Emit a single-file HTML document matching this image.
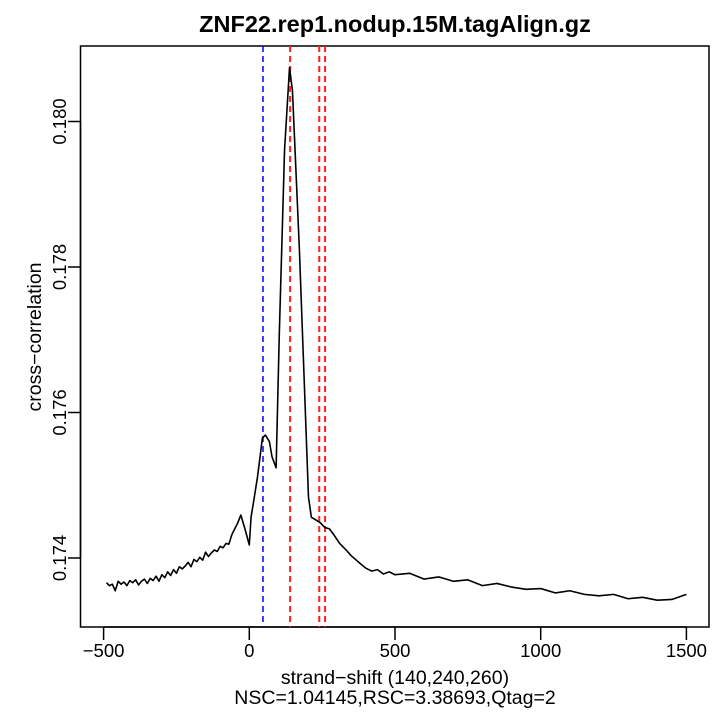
<!DOCTYPE html>
<html><head><meta charset="utf-8"><style>body{margin:0;background:#fff}svg{display:block;font-family:"Liberation Sans",sans-serif}</style></head>
<body>
<svg id="chart" width="720" height="720" viewBox="0 0 720 720">
<text x="395" y="32" text-anchor="middle" font-size="23.5" font-weight="bold">ZNF22.rep1.nodup.15M.tagAlign.gz</text>
<rect x="80.5" y="46" width="628.5" height="581" fill="none" stroke="#000" stroke-width="1.5"/>
<g id="axes"></g>
<g id="vlines"></g>
<g id="series"></g>
<text x="395" y="684" text-anchor="middle" font-size="19.5">strand−shift (140,240,260)</text>
<text x="395" y="704" text-anchor="middle" font-size="19.5">NSC=1.04145,RSC=3.38693,Qtag=2</text>
<text transform="translate(41,337) rotate(-90)" text-anchor="middle" font-size="19.5">cross−correlation</text>
</svg>
<script>
const xTicks=[-500,0,500,1000,1500];
const yTicks=[0.174,0.176,0.178,0.180];
const blueLines=[47];
const redLines=[140,240,260];
const shifts=[-490,-480,-470,-460,-450,-440,-430,-420,-410,-400,-390,-380,-370,-360,-350,-340,-330,-320,-310,-300,-290,-280,-270,-260,-250,-240,-230,-220,-210,-200,-190,-180,-170,-160,-150,-140,-130,-120,-110,-100,-90,-80,-70,-60,-50,-40,-29,-15,0,6,15,28,45,55,69,78,92,103,121,138,148,172,193,203,213,230,245,259,275,290,310,330,350,379,400,420,440,460,480,500,550,600,650,700,750,800,850,900,950,1000,1050,1100,1150,1200,1250,1300,1350,1400,1450,1500];
const corr=[0.17366,0.17362,0.17364,0.17355,0.17368,0.17364,0.17367,0.17362,0.17369,0.17366,0.17370,0.17363,0.17368,0.17371,0.17365,0.17372,0.17369,0.17375,0.17368,0.17377,0.17373,0.17381,0.17376,0.17384,0.17379,0.17388,0.17385,0.17389,0.17394,0.17388,0.17398,0.17395,0.17401,0.17397,0.17408,0.17402,0.17407,0.17411,0.17409,0.17416,0.17414,0.17420,0.17419,0.17432,0.17440,0.17448,0.17459,0.17440,0.17418,0.17456,0.17478,0.17511,0.17565,0.17569,0.17560,0.17539,0.17524,0.17709,0.17961,0.18074,0.18043,0.17823,0.17594,0.17484,0.17456,0.17452,0.17448,0.17442,0.17440,0.17432,0.17420,0.17412,0.17403,0.17393,0.17386,0.17382,0.17384,0.17378,0.17381,0.17377,0.17379,0.17371,0.17374,0.17368,0.17370,0.17362,0.17365,0.17360,0.17357,0.17358,0.17352,0.17355,0.17350,0.17348,0.17350,0.17344,0.17346,0.17342,0.17343,0.17350];
const NS='http://www.w3.org/2000/svg';
const X=v=>249.3+(v)*0.2914;
const Y=v=>558-(v-0.174)*72750;
function mk(t,a,p){const e=document.createElementNS(NS,t);for(const k in a)e.setAttribute(k,a[k]);p.appendChild(e);return e;}
const ax=document.getElementById('axes');
let l=mk('line',{x1:X(xTicks[0]),x2:X(xTicks[xTicks.length-1]),y1:627,y2:627,stroke:'#000','stroke-width':1.5},ax);


xTicks.forEach(t=>{
 mk('line',{x1:X(t),x2:X(t),y1:627,y2:640,stroke:'#000','stroke-width':1.5},ax);
 const tx=mk('text',{x:X(t),y:657,'text-anchor':'middle','font-size':18.5},ax);
 tx.textContent=t<0?'−'+Math.abs(t):t;
 
 
});
l=mk('line',{x1:80.5,x2:80.5,y1:Y(yTicks[0]),y2:Y(yTicks[yTicks.length-1]),stroke:'#000','stroke-width':1.5},ax);


yTicks.forEach(t=>{
 mk('line',{x1:68,x2:80,y1:Y(t),y2:Y(t),stroke:'#000','stroke-width':1.5},ax);
 const tx=mk('text',{transform:`translate(66,${Y(t)}) rotate(-90)`,'text-anchor':'middle','font-size':18.5},ax);
 tx.textContent=t.toFixed(3);
 
 
});
const vl=document.getElementById('vlines');
blueLines.forEach(v=>{const e=mk('line',{x1:X(v),x2:X(v),y1:46,y2:627,stroke:'#0000ff','stroke-width':1.5,'stroke-dasharray':'6 4'},vl);
 
 });
redLines.forEach(v=>{const e=mk('line',{x1:X(v),x2:X(v),y1:46,y2:627,stroke:'#ff2020','stroke-width':2,'stroke-dasharray':'6 4'},vl);
 
 });
const p=mk('polyline',{points:shifts.map((s,i)=>X(s)+','+Y(corr[i])).join(' '),fill:'none',stroke:'#000','stroke-width':1.6,'stroke-linejoin':'round'},document.getElementById('series'));


</script>
</body></html>
